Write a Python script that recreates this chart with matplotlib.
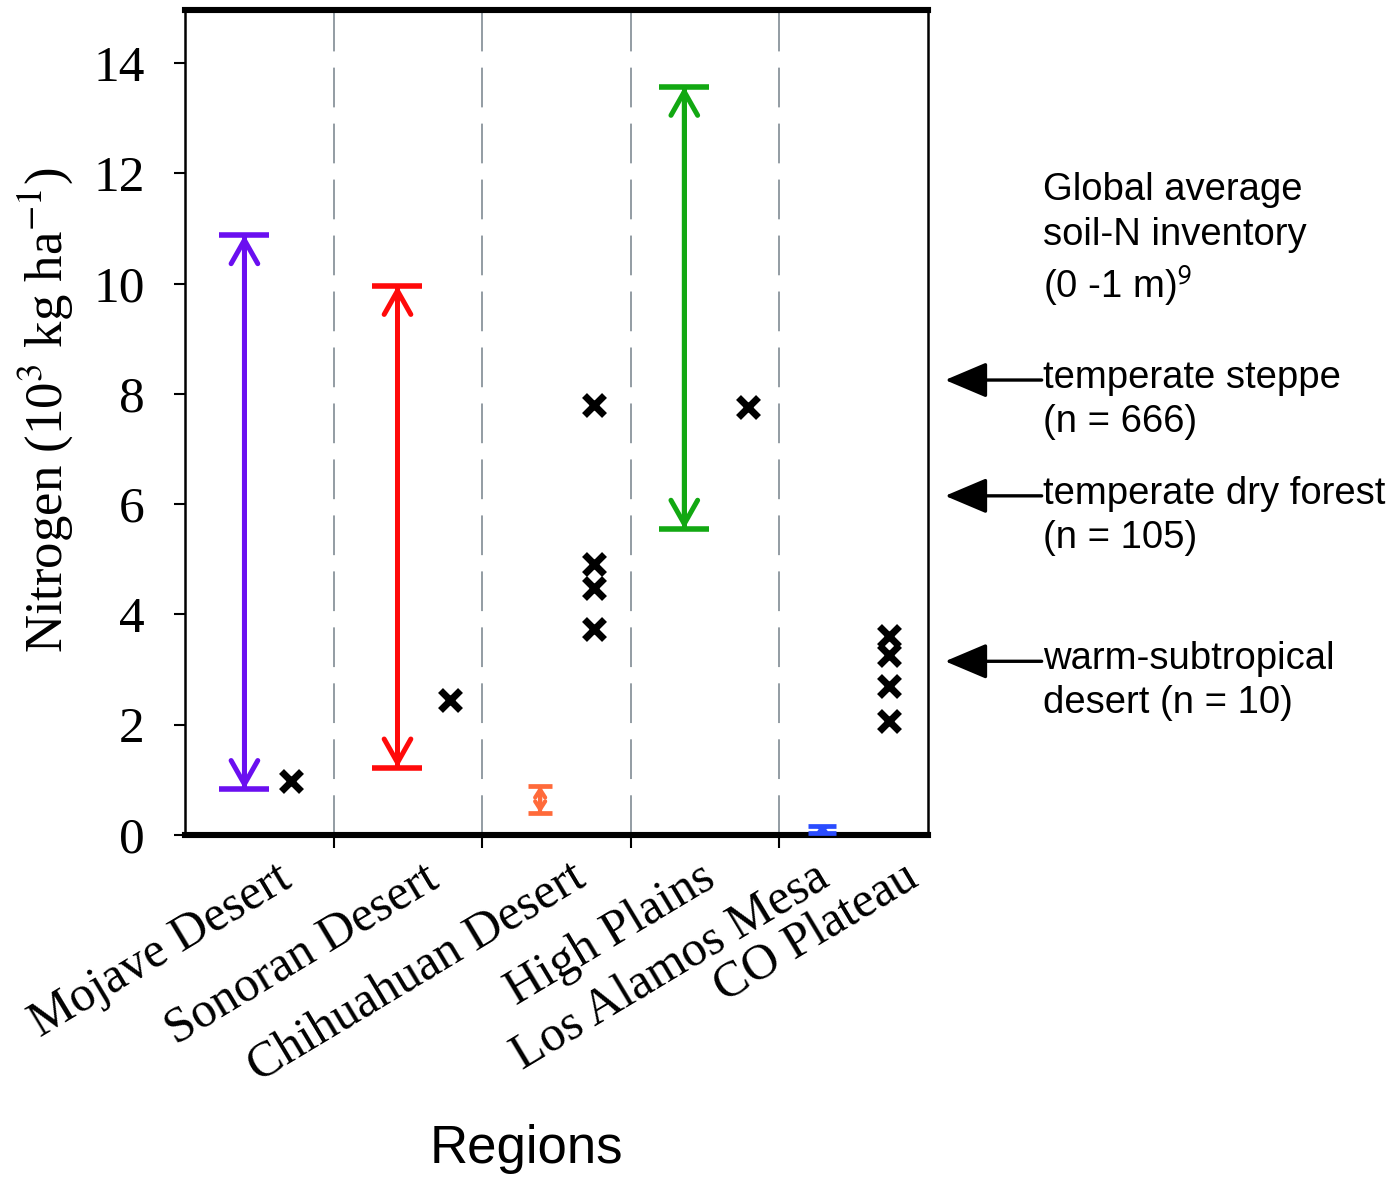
import matplotlib
matplotlib.use("Agg")
import matplotlib.pyplot as plt
import matplotlib.transforms as mtransforms

# Данные
regions = ["Mojave Desert", "Sonoran Desert", "Chihuahuan Desert",
           "High Plains", "Los Alamos Mesa", "CO Plateau"]

# диапазоны (низ, верх), рисуются двойными стрелками
range_x = [0.40, 1.43, 2.39, 3.36, 4.29]
range_low = [0.83, 1.22, 0.40, 5.55, 0.03]
range_high = [10.88, 9.96, 0.89, 13.57, 0.17]
range_colors = ["#6a0ff0", "#ff0a0a", "#ff6a3a", "#12a812", "#2a4cff"]

# отдельные значения (крестики)
pt_x = [0.71, 1.78, 2.75, 2.75, 2.75, 2.75, 3.79, 4.74, 4.74, 4.74, 4.74]
pt_y = [0.98, 2.45, 7.80, 4.92, 4.48, 3.74, 7.76, 3.60, 3.26, 2.70, 2.07]

# глобальные средние
global_labels = ["temperate steppe\n(n = 666)",
                 "temperate dry forest\n(n = 105)",
                 "warm-subtropical\ndesert (n = 10)"]
global_values = [8.25, 6.15, 3.15]

# оформление
separators = [1, 2, 3, 4]
label_pos = [0.61, 1.60, 2.59, 3.46, 4.23, 4.83]
cap_sizes = [18, 18, 8.6, 18, 10]
head_len = [0.85, 0.85, 0.28, 0.85, 0.12]
head_wid = [0.48, 0.48, 0.18, 0.48, 0.12]
line_w = [3.6, 3.6, 3.0, 3.6, 3.0]

plt.rcParams["font.family"] = "Liberation Serif"
plt.rcParams["mathtext.fontset"] = "stix"

fig = plt.figure(figsize=(13.95, 11.78), dpi=100)
ax = fig.add_axes([185 / 1395, 1 - 835 / 1178, 743 / 1395, 825 / 1178])
ax.set_xlim(0, 5)
ax.set_ylim(0, 14.96)

# пунктирные разделители
for s in separators:
    ax.axvline(s, color="#8a949c", lw=1.3, linestyle=(0, (22, 9)), zorder=1)

# диапазоны
for x, lo, hi, c, cs, hl, hw, lw in zip(range_x, range_low, range_high, range_colors,
                                        cap_sizes, head_len, head_wid, line_w):
    ax.errorbar(x, (lo + hi) / 2, yerr=(hi - lo) / 2, fmt="none", ecolor=c,
                elinewidth=lw, capsize=cs, capthick=lw + 0.4, zorder=4, clip_on=False)
    ax.annotate("", xy=(x, hi), xytext=(x, lo),
                arrowprops=dict(arrowstyle=f"<->,head_length={hl},head_width={hw}",
                                color=c, lw=lw, shrinkA=0, shrinkB=0, mutation_scale=20),
                zorder=4, annotation_clip=False)

# крестики
ax.plot(pt_x, pt_y, linestyle="none", marker="x", ms=14.5, mew=5, color="black", zorder=5)

# оси
for side in ["top", "bottom"]:
    ax.spines[side].set_linewidth(4.4)
for side in ["left", "right"]:
    ax.spines[side].set_linewidth(1.8)
ax.spines["bottom"].set_zorder(3)

ax.set_yticks(range(0, 15, 2))
ax.tick_params(axis="y", direction="out", length=8, width=1.5, pad=21, labelsize=37)
ax.set_xticks(separators)
ax.set_xticklabels([])
ax.tick_params(axis="x", which="major", direction="out", length=9, width=1.5)
ax.set_xticks(label_pos, minor=True)
ax.set_xticklabels(regions, minor=True, fontsize=36)
ax.tick_params(axis="x", which="minor", length=0, pad=14)
for lbl in ax.get_xminorticklabels():
    lbl.set_rotation(31)
    lbl.set_ha("right")
    lbl.set_va("top")
    lbl.set_rotation_mode("anchor")

ax.set_ylabel("Nitrogen (10$^3$ kg ha$^{-1}$)", fontsize=38)
ax.yaxis.set_label_coords(-0.148, 0.515)
ax.set_xlabel("Regions", family="Liberation Sans", fontsize=38)
ax.xaxis.set_label_coords(0.46, -0.35)

# стрелки глобальных средних
trans = mtransforms.blended_transform_factory(ax.transAxes, ax.transData)
text_trans = trans + mtransforms.ScaledTranslation(0, -0.2, fig.dpi_scale_trans)
for lab, v in zip(global_labels, global_values):
    ax.annotate("", xy=(1.023, v), xycoords=trans, xytext=(1.153, v), textcoords=trans,
                arrowprops=dict(arrowstyle="-|>,head_length=1.3,head_width=0.55",
                                color="black", lw=2.4, shrinkA=0, shrinkB=0,
                                mutation_scale=20),
                annotation_clip=False)
    ax.text(1.155, v, lab, transform=text_trans, ha="left", va="center",
            family="Liberation Sans", fontsize=27.5, linespacing=1.3, clip_on=False)

fig.text(1043 / 1395, 1 - 240 / 1178,
         "Global average\nsoil-N inventory\n(0 -1 m)$^{\\mathsf{9}}$",
         ha="left", va="center", family="Liberation Sans", fontsize=27.5, linespacing=1.3)

fig.savefig("out.png", dpi=100)
